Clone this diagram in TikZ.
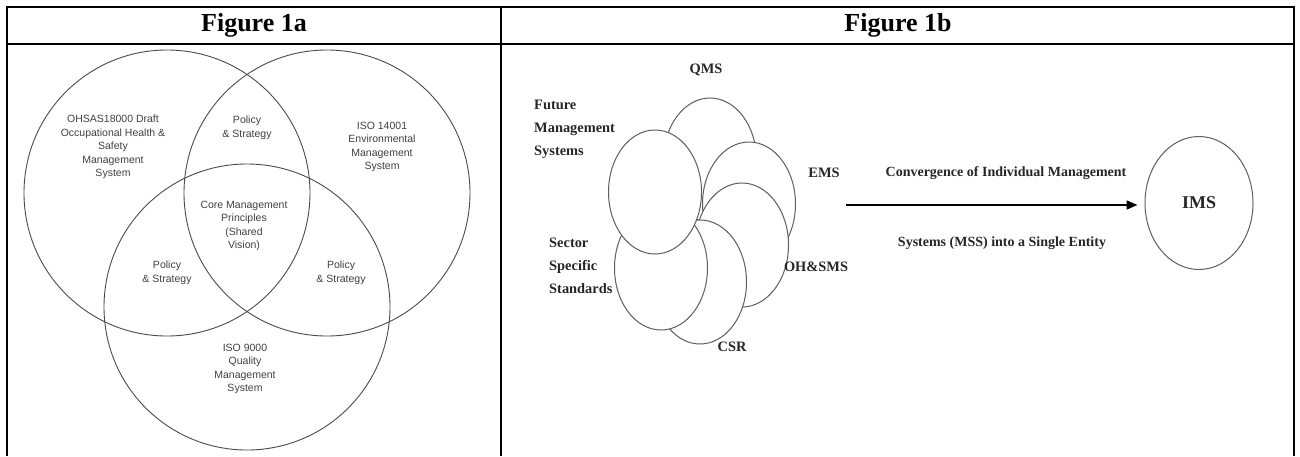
\documentclass[tikz,border=0pt]{standalone}
\usepackage{fontspec}
\setmainfont{Liberation Serif}
\setsansfont{Liberation Sans}
\usetikzlibrary{arrows.meta,shapes.geometric,positioning}
\definecolor{venngray}{HTML}{4A4A4A}
\definecolor{petalgray}{HTML}{5E5E5E}
\definecolor{inkgray}{HTML}{262626}

\begin{document}
\begin{tikzpicture}[x=1pt, y=-1pt,
  venn/.style={venngray, line width=0.9pt},
  venntext/.style={font=\sffamily\fontsize{10.5}{13.5}\selectfont, text=black!75,
    align=center, inner sep=0pt},
  petal/.style={draw=petalgray, fill=white, line width=1pt, ellipse,
    minimum width=93pt, minimum height=124pt, inner sep=0pt},
  flowertext/.style={font=\fontsize{14.4}{23}\selectfont\bfseries, text=inkgray,
    inner sep=0pt},
  arrowtext/.style={font=\fontsize{14}{16}\selectfont\bfseries, text=inkgray,
    inner sep=0pt},
  headtext/.style={font=\fontsize{26}{30}\selectfont\bfseries}]
  \useasboundingbox (0,0) rectangle (1300,456);
  % Table frame
  \draw[line width=2pt] (7,456) -- (7,7) -- (1294,7) -- (1294,456);
  \draw[line width=2pt] (501,7) -- (501,456);
  \draw[line width=1.5pt] (7,44) -- (1294,44);
  \node[headtext] (heada) at (254,25) {Figure 1a};
  \node[headtext] (headb) at (898,25) {Figure 1b};
  % Figure 1a: Venn circles
  \foreach \cx/\cy in {167/193, 327/193, 247/307} {
    \draw[venn] (\cx,\cy) circle (143);
  }
  \node[venntext] (ohsas) at (113,147)
    {OHSAS18000 Draft\\Occupational Health \&\\Safety\\Management\\System};
  \node[venntext] (isoenv) at (382,147)
    {ISO 14001\\Environmental\\Management\\System};
  \node[venntext] (isoqual) at (245,369)
    {ISO 9000\\Quality\\Management\\System};
  \node[venntext] (core) at (244,226)
    {Core Management\\Principles\\(Shared\\Vision)};
  \node[venntext] (policytop) at (247,128) {Policy\\\& Strategy};
  \node[venntext] (policyleft) at (167,273) {Policy\\\& Strategy};
  \node[venntext] (policyright) at (341,273) {Policy\\\& Strategy};
  % Figure 1b: overlapping systems
  \node[petal] (qms) at (710,160) {};
  \node[petal] (ems) at (749,204) {};
  \node[petal] (ohs) at (742,245) {};
  \node[petal] (csr) at (700,282) {};
  \node[petal] (sector) at (661,268) {};
  \node[petal] (future) at (655,192) {};
  \node[flowertext] (qmslbl) at (706,70) {QMS};
  \node[flowertext] (emslbl) at (824,173) {EMS};
  \node[flowertext] (ohslbl) at (816,267) {OH\&SMS};
  \node[flowertext] (csrlbl) at (732,347) {CSR};
  \node[flowertext, anchor=west, align=left] (futurelbl) at (534,129)
    {Future\\Management\\Systems};
  \node[flowertext, anchor=west, align=left] (sectorlbl) at (549,266)
    {Sector\\Specific\\Standards};
  % Convergence arrow
  \node[draw=petalgray, line width=1pt, ellipse, minimum width=108pt,
    minimum height=133pt, font=\fontsize{18}{20}\selectfont\bfseries,
    text=inkgray] (ims) at (1199,203) {IMS};
  \coordinate (convstart) at (846,205);
  \draw[line width=1.6pt, -{Triangle[length=11pt,width=9pt]}, shorten >=7pt]
    (convstart) -- (convstart -| ims.west);
  \node[arrowtext] (convtop) at (1006,173) {Convergence of Individual Management};
  \node[arrowtext] (convbot) at (1002,243) {Systems (MSS) into a Single Entity};
\end{tikzpicture}
\end{document}
